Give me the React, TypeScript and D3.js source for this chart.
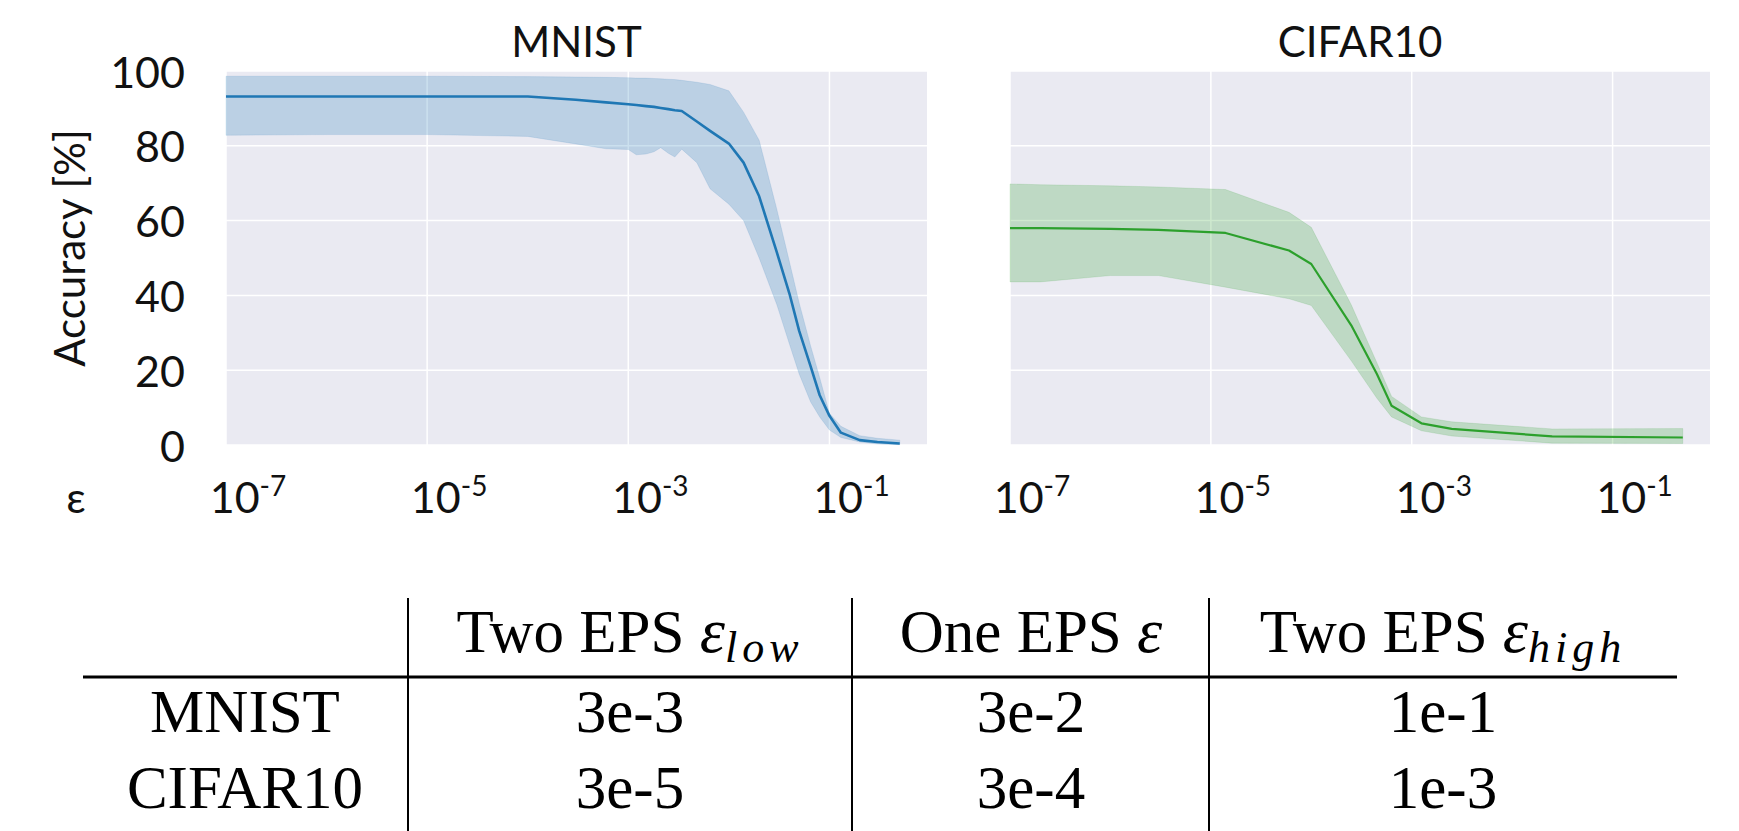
import * as d3 from "d3";

// MNIST: accuracy vs epsilon (mean and spread band)
const mnistEps = [
  1e-7, 1e-6, 1e-5, 1e-4, 3e-4, 6e-4, 1e-3, 1.2e-3, 1.5e-3, 1.8e-3, 2.1e-3,
  2.5e-3, 2.9e-3, 3.4e-3, 4.8e-3, 6.5e-3, 1e-2, 1.4e-2, 2e-2, 3e-2, 4e-2,
  5e-2, 6.5e-2, 8e-2, 1e-1, 1.3e-1, 2e-1, 3e-1, 5e-1,
];
const mnistMean = [
  93.2, 93.2, 93.2, 93.2, 92.3, 91.6, 91.1, 90.9, 90.6, 90.4, 90.1, 89.8, 89.5,
  89.3, 86.5, 84.0, 80.6, 75.5, 66.5, 51.5, 40.5, 30.5, 21.0, 13.3, 7.8, 3.3,
  1.3, 0.8, 0.4,
];
const mnistLow = [
  82.8, 83.0, 83.0, 82.5, 80.5, 79.2, 79.0, 77.6, 77.8, 78.4, 79.5, 78.0, 77.0,
  79.1, 75.5, 68.5, 64.4, 60.0, 50.0, 37.5, 27.0, 19.0, 11.5, 7.5, 4.0, 2.0,
  0.8, 0.3, 0.1,
];
const mnistHigh = [
  98.6, 98.6, 98.6, 98.5, 98.4, 98.3, 98.2, 98.1, 98.1, 98.0, 97.9, 97.8, 97.7,
  97.5, 97.0, 96.4, 94.7, 89.0, 81.5, 63.0, 49.0, 38.0, 26.5, 18.0, 8.5, 5.0,
  2.5, 1.8, 1.3,
];

// CIFAR10
const cifarEps = [
  1e-7, 2e-7, 1e-6, 3e-6, 1.4e-5, 6e-5, 1e-4, 2.5e-4, 4.5e-4, 6.3e-4, 1.25e-3,
  2.5e-3, 2.5e-2, 5e-1,
];
const cifarMean = [
  58.0, 58.0, 57.8, 57.5, 56.7, 52.0, 48.4, 32.0, 19.0, 10.5, 5.8, 4.3, 2.3, 2.0,
];
const cifarLow = [
  43.6, 43.6, 45.3, 45.3, 42.2, 39.1, 37.3, 22.5, 12.5, 7.5, 3.8, 2.4, 0.5, 0.4,
];
const cifarHigh = [
  69.8, 69.6, 69.3, 69.0, 68.3, 62.2, 58.2, 37.5, 22.0, 13.0, 7.5, 6.2, 4.3, 4.4,
];

const yTicks = [0, 20, 40, 60, 80, 100];
const xTickExps = [-7, -5, -3, -1];

// table
const colHeads = ["Two EPS ", "One EPS ", "Two EPS "];
const colSubs = ["low", "", "high"];
const rowNames = ["MNIST", "CIFAR10"];
const cellValues = [
  ["3e-3", "3e-2", "1e-1"],
  ["3e-5", "3e-4", "1e-3"],
];

const W = 1739;
const H = 831;
const plotTop = 71;
const plotBottom = 445;
const sans = "Lato, 'Open Sans', sans-serif";
const serif = "'Liberation Serif', 'Times New Roman', serif";

const y = d3.scaleLinear().domain([0, 100]).range([plotBottom, plotTop]);

interface PanelProps {
  title: string;
  left: number;
  right: number;
  eps: number[];
  mean: number[];
  low: number[];
  high: number[];
  color: string;
  lineWidth: number;
}

function Panel({ title, left, right, eps, mean, low, high, color, lineWidth }: PanelProps) {
  const x = d3
    .scaleLog()
    .domain([1e-7, Math.pow(10, -0.03)])
    .range([left, right]);

  const pts = eps.map((e, i) => ({ e, m: mean[i], lo: low[i], hi: high[i] }));

  const area = d3
    .area<(typeof pts)[0]>()
    .x((d) => x(d.e))
    .y0((d) => y(d.lo))
    .y1((d) => y(d.hi));

  const line = d3
    .line<(typeof pts)[0]>()
    .x((d) => x(d.e))
    .y((d) => y(d.m));

  return (
    <g>
      <rect
        x={left}
        y={plotTop}
        width={right - left}
        height={plotBottom - plotTop}
        fill="#eaeaf2"
      />
      {yTicks.map((t) => (
        <line
          key={"gy" + t}
          x1={left}
          x2={right}
          y1={y(t)}
          y2={y(t)}
          stroke="#ffffff"
          strokeWidth={1.5}
        />
      ))}
      {xTickExps.map((e) => (
        <line
          key={"gx" + e}
          x1={x(Math.pow(10, e))}
          x2={x(Math.pow(10, e))}
          y1={plotTop}
          y2={plotBottom}
          stroke="#ffffff"
          strokeWidth={1.5}
        />
      ))}
      <path d={area(pts) ?? ""} fill={color} fillOpacity={0.23} stroke={color} strokeOpacity={0.12} />
      <path d={line(pts) ?? ""} fill="none" stroke={color} strokeWidth={lineWidth} strokeLinejoin="round" />
      <text
        x={(left + right) / 2}
        y={57}
        textAnchor="middle"
        fontFamily={sans}
        fontSize={42}
        fill="#111"
      >
        {title}
      </text>
      {xTickExps.map((e) => (
        <text
          key={"tx" + e}
          x={x(Math.pow(10, e)) + 22}
          y={513}
          textAnchor="middle"
          fontFamily={sans}
          fontSize={43}
          fill="#111"
        >
          10
          <tspan fontSize={28} dy={-17}>
            {String(e)}
          </tspan>
        </text>
      ))}
    </g>
  );
}

export default function App() {
  const colX = [630, 1031, 1443];
  const rowLabelX = 245;
  const rowY = [732, 808];

  return (
    <svg
      width={W}
      height={H}
      style={{ position: "absolute", left: 0, top: 0, display: "block", background: "#fff" }}
    >
      <Panel
        title="MNIST"
        left={226}
        right={927}
        eps={mnistEps}
        mean={mnistMean}
        low={mnistLow}
        high={mnistHigh}
        color="#1f77b4"
        lineWidth={2.6}
      />
      <Panel
        title="CIFAR10"
        left={1010}
        right={1710}
        eps={cifarEps}
        mean={cifarMean}
        low={cifarLow}
        high={cifarHigh}
        color="#2ca02c"
        lineWidth={2.2}
      />

      {/* y axis labels (left panel only) */}
      {yTicks.map((t) => (
        <text
          key={"ty" + t}
          x={185}
          y={y(t)}
          textAnchor="end"
          dominantBaseline="central"
          fontFamily={sans}
          fontSize={43}
          fill="#111"
        >
          {t}
        </text>
      ))}
      <text
        transform="translate(69,248) rotate(-90)"
        textAnchor="middle"
        dominantBaseline="central"
        fontFamily={sans}
        fontSize={42}
        fill="#111"
      >
        Accuracy [%]
      </text>
      <text x={76} y={513} textAnchor="middle" fontFamily={sans} fontSize={43} fill="#111">
        ε
      </text>

      {/* table */}
      {[408, 852, 1209].map((vx) => (
        <line key={"vl" + vx} x1={vx} x2={vx} y1={598} y2={H} stroke="#000" strokeWidth={2} />
      ))}
      <line x1={83} x2={1677} y1={677} y2={677} stroke="#000" strokeWidth={3} />
      {colHeads.map((h, i) => (
        <text
          key={"ch" + i}
          x={colX[i]}
          y={652}
          textAnchor="middle"
          fontFamily={serif}
          fontSize={61}
          fill="#000"
        >
          {h}
          <tspan fontStyle="italic" fontSize={64}>ε</tspan>
          {colSubs[i] && (
            <tspan fontStyle="italic" fontSize={44} letterSpacing={5} dy={10}>
              {colSubs[i]}
            </tspan>
          )}
        </text>
      ))}
      {rowNames.map((r, ri) => (
        <g key={"row" + r}>
          <text
            x={rowLabelX}
            y={rowY[ri]}
            textAnchor="middle"
            fontFamily={serif}
            fontSize={61}
            fill="#000"
          >
            {r}
          </text>
          {cellValues[ri].map((v, ci) => (
            <text
              key={"c" + ci}
              x={colX[ci]}
              y={rowY[ri]}
              textAnchor="middle"
              fontFamily={serif}
              fontSize={61}
              fill="#000"
            >
              {v}
            </text>
          ))}
        </g>
      ))}
    </svg>
  );
}
